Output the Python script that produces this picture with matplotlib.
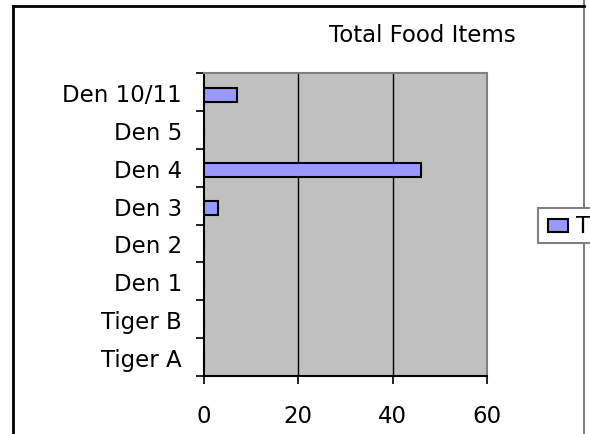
import matplotlib
matplotlib.use('Agg')
import matplotlib.pyplot as plt
from matplotlib.patches import Rectangle
from matplotlib.lines import Line2D

# data
categories = ['Tiger A', 'Tiger B', 'Den 1', 'Den 2', 'Den 3', 'Den 4', 'Den 5', 'Den 10/11']
food_items = [0, 0, 0, 0, 3, 46, 0, 7]
x_ticks = [0, 20, 40, 60]
title = 'Total Food Items'
legend_text = 'T'  # only the first letter of the legend entry is visible

W, H = 590, 435
fig = plt.figure(figsize=(W / 100, H / 100), dpi=100)
fs = 16.5


def fx(px):
    return px / W


def fy(py):
    return 1 - py / H


# plot area
ax = fig.add_axes([fx(204), fy(377), (487 - 204) / W, (377 - 74) / H])
ax.set_facecolor('#C0C0C0')
pos = [i - 0.07 for i in range(len(categories))]
ax.barh(pos, food_items, height=0.37, color='#9999FF', edgecolor='black',
        linewidth=1.5, zorder=3)
ax.set_xlim(x_ticks[0], x_ticks[-1])
ax.set_ylim(-0.5, len(categories) - 0.5)
ax.set_xticks(x_ticks)
ax.set_yticks(range(len(categories)))
ax.set_yticklabels(categories)
ax.set_yticks([i - 0.5 for i in range(len(categories) + 1)], minor=True)
ax.tick_params(axis='y', which='major', length=0, pad=16, labelsize=fs)
ax.tick_params(axis='y', which='minor', length=6, width=1.2, color='black')
ax.tick_params(axis='x', length=6, width=1.2, pad=14, labelsize=fs)
for v in x_ticks[1:-1]:
    ax.axvline(v, color='black', lw=1, zorder=2)

for s in ['left', 'bottom']:
    ax.spines[s].set_color('black')
    ax.spines[s].set_linewidth(1.5)
for s in ['top', 'right']:
    ax.spines[s].set_color('#808080')
    ax.spines[s].set_linewidth(1.5)

# title
fig.text(fx(422), fy(35), title, ha='center', va='center', fontsize=fs)

# outer chart frame (cropped)
fig.add_artist(Line2D([fx(13), fx(13)], [fy(7), 0], color='black', lw=2, zorder=3))
fig.add_artist(Line2D([fx(13), fx(584)], [fy(7), fy(7)], color='black', lw=2, zorder=3))
fig.add_artist(Line2D([fx(584), fx(584)], [1, 0], color='#808080', lw=1.5, zorder=2))

# legend, cut off at the right edge
fig.add_artist(Rectangle((fx(538), fy(244)), (600 - 538) / W, (244 - 209) / H,
                         transform=fig.transFigure, facecolor='white',
                         edgecolor='#808080', lw=1.5, zorder=5, clip_on=False))
fig.add_artist(Rectangle((fx(548), fy(233)), 20 / W, 13 / H,
                         transform=fig.transFigure, facecolor='#9999FF',
                         edgecolor='black', lw=1.5, zorder=6, clip_on=False))
fig.text(fx(576), fy(227), legend_text, va='center', fontsize=fs, zorder=6)

fig.savefig('out.png', dpi=100)
